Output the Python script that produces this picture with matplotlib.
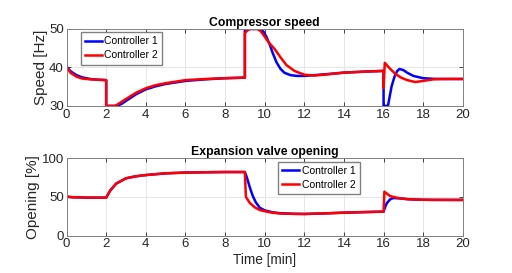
import matplotlib.pyplot as plt

plt.rcParams['font.family'] = ['Liberation Sans', 'DejaVu Sans']

# compressor speed [Hz]
t_sp1 = [0, 0.2, 0.5, 0.8, 1.2, 1.6, 2.0, 2.0, 2.55, 2.8, 3.0, 3.5, 4.0, 4.5, 5.0, 6.0, 7.0, 8.0, 9.0,
         9.0, 9.8, 9.95, 10.1, 10.25, 10.4, 10.6, 10.8, 11.0, 11.3, 11.6, 12.0, 13.0, 14.0, 15.0, 16.0,
         16.0, 16.22, 16.4, 16.55, 16.68, 16.8, 17.0, 17.2, 17.5, 18.0, 18.5, 19.0, 20.0]
sp1 = [40.2, 39.0, 38.0, 37.4, 37.0, 36.8, 36.7, 30, 30, 30.6, 31.3, 33.0, 34.3, 35.1, 35.7, 36.5, 36.9, 37.2, 37.35,
       50, 50, 49.2, 47.8, 46.0, 43.8, 41.3, 39.6, 38.6, 38.0, 37.8, 37.8, 38.2, 38.65, 38.9, 39.1,
       30, 30, 35.0, 37.6, 39.0, 39.6, 39.3, 38.6, 37.8, 37.2, 37.05, 37.0, 37.0]

t_sp2 = [0, 0.2, 0.5, 0.8, 1.2, 1.6, 2.0, 2.0, 2.45, 2.7, 3.0, 3.5, 4.0, 4.5, 5.0, 6.0, 7.0, 8.0, 9.0,
         9.0, 9.1, 9.25, 9.65, 9.8, 10.0, 10.2, 10.5, 10.8, 11.1, 11.5, 12.0, 12.5, 13.0, 14.0, 15.0, 16.0,
         16.0, 16.06, 16.3, 16.6, 16.9, 17.2, 17.6, 18.0, 18.5, 19.0, 20.0]
sp2 = [40.2, 38.6, 37.6, 37.1, 36.9, 36.8, 36.7, 30, 30, 30.8, 31.8, 33.4, 34.6, 35.4, 35.9, 36.7, 37.0, 37.2, 37.35,
       48.9, 49.5, 50, 50, 49.4, 48.0, 46.5, 44.8, 42.6, 40.6, 39.1, 38.1, 37.9, 38.1, 38.65, 38.9, 39.1,
       34.6, 41.2, 39.8, 38.3, 37.3, 36.7, 36.2, 36.5, 36.9, 37.0, 37.0]

# expansion valve opening [%]
t_op1 = [0, 0.3, 1.0, 2.0, 2.2, 2.5, 3.0, 3.5, 4.0, 5.0, 6.0, 7.0, 8.0, 9.0, 9.1, 9.25, 9.4, 9.55,
         9.75, 10.0, 10.4, 10.8, 11.5, 12.0, 13.0, 14.0, 15.0, 16.0, 16.08, 16.16, 16.33, 16.5, 16.8,
         17.2, 17.8, 18.5, 20.0]
op1 = [50.2, 49.5, 49.0, 48.9, 58, 67, 73.9, 76.5, 78.1, 80.3, 81.3, 81.7, 82, 82, 75, 62, 51, 43,
       36, 32.5, 30, 28.8, 28.1, 27.9, 28.6, 29.6, 30.3, 30.9, 37, 41.7, 46.8, 48.5, 48,
       47, 46.3, 46, 46]

t_op2 = [0, 0.3, 1.0, 2.0, 2.2, 2.5, 3.0, 3.5, 4.0, 5.0, 6.0, 7.0, 8.0, 9.0, 9.05, 9.25, 9.5,
         9.75, 10.0, 10.4, 10.8, 11.5, 12.0, 13.0, 14.0, 15.0, 16.0, 16.04, 16.33, 16.66, 17.0,
         17.34, 18.0, 20.0]
op2 = [50.2, 49.5, 49.0, 48.9, 58, 67, 73.9, 76.5, 78.1, 80.3, 81.3, 81.7, 82, 82, 50, 42, 36.5,
       33, 31.4, 29.5, 28.5, 28.0, 27.9, 28.6, 29.6, 30.3, 30.9, 56.6, 51, 48.9, 47.6,
       46.8, 46.2, 46]

xticks = list(range(0, 21, 2))
gray = '#262626'

fig = plt.figure(figsize=(5.12, 2.73), dpi=100)
ax1 = fig.add_axes([0.130, 0.612, 0.774, 0.282])
ax2 = fig.add_axes([0.130, 0.137, 0.774, 0.284])


def style(ax):
    ax.set_xlim(0, 20)
    ax.set_xticks(xticks)
    ax.grid(True, color='#e6e6e6', linewidth=0.7)
    ax.set_axisbelow(True)
    ax.tick_params(direction='in', length=3, width=0.6, labelsize=9.5, colors=gray,
                   top=True, right=True, pad=2)
    for s in ax.spines.values():
        s.set_color('#808080')
        s.set_linewidth(0.7)


def add_legend(ax, anchor):
    ax.legend(loc='upper left', bbox_to_anchor=anchor, borderaxespad=0, fontsize=7.5,
              handlelength=1.6, handletextpad=0.25, borderpad=0.4, labelspacing=0.4,
              fancybox=False, edgecolor='#808080', framealpha=1)


ax1.plot(t_sp1, sp1, color='#0000ff', lw=1.8, label='Controller 1')
ax1.plot(t_sp2, sp2, color='#ff0000', lw=1.8, label='Controller 2')
style(ax1)
ax1.set_ylim(30, 50)
ax1.set_yticks([30, 40, 50])
ax1.set_ylabel('Speed [Hz]', fontsize=11, color=gray, labelpad=1)
ax1.set_title('Compressor speed', fontsize=8.8, fontweight='bold', pad=2)
add_legend(ax1, (0.036, 0.96))

ax2.plot(t_op1, op1, color='#0000ff', lw=1.8, label='Controller 1')
ax2.plot(t_op2, op2, color='#ff0000', lw=1.8, label='Controller 2')
style(ax2)
ax2.set_ylim(0, 100)
ax2.set_yticks([0, 50, 100])
ax2.set_ylabel('Opening [%]', fontsize=11, color=gray, labelpad=1)
ax2.set_xlabel('Time [min]', fontsize=9.8, color=gray, labelpad=2)
ax2.set_title('Expansion valve opening', fontsize=8.8, fontweight='bold', pad=2)
add_legend(ax2, (0.534, 0.955))

fig.savefig('out.png', dpi=100)
